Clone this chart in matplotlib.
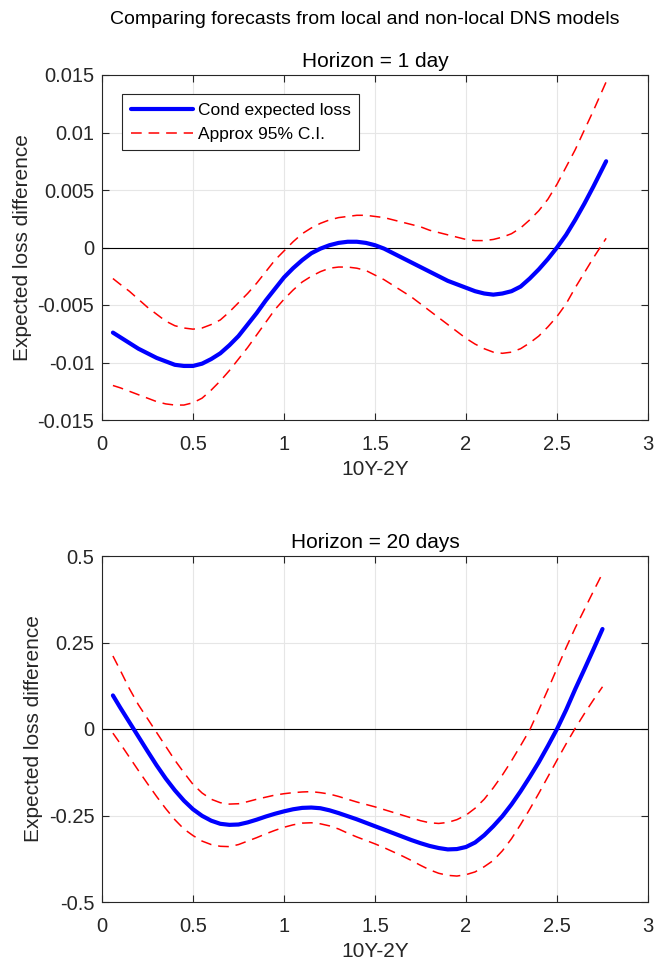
import matplotlib
matplotlib.use("Agg")
import matplotlib.pyplot as plt

plt.rcParams['font.family'] = ['Liberation Sans', 'DejaVu Sans']

suptitle = "Comparing forecasts from local and non-local DNS models"
titles = ["Horizon = 1 day", "Horizon = 20 days"]
xlabel = "10Y-2Y"
ylabel = "Expected loss difference"
legend_labels = ["Cond expected loss", "Approx 95% C.I."]

xticks = [0, 0.5, 1, 1.5, 2, 2.5, 3]
xticklabels = ["0", "0.5", "1", "1.5", "2", "2.5", "3"]
yticks_top = [-0.015, -0.01, -0.005, 0, 0.005, 0.01, 0.015]
yticklabels_top = ["-0.015", "-0.01", "-0.005", "0", "0.005", "0.01", "0.015"]
yticks_bot = [-0.5, -0.25, 0, 0.25, 0.5]
yticklabels_bot = ["-0.5", "-0.25", "0", "0.25", "0.5"]

# Horizon = 1 day
x_top = [0.06, 0.10, 0.15, 0.20, 0.25, 0.30, 0.35, 0.40, 0.45, 0.50, 0.55, 0.60, 0.65, 0.70,
         0.75, 0.80, 0.85, 0.90, 0.95, 1.00, 1.05, 1.10, 1.15, 1.20, 1.25, 1.30, 1.35, 1.40,
         1.45, 1.50, 1.55, 1.60, 1.65, 1.70, 1.75, 1.80, 1.85, 1.90, 1.95, 2.00, 2.05, 2.10,
         2.15, 2.20, 2.25, 2.30, 2.35, 2.40, 2.45, 2.50, 2.55, 2.60, 2.65, 2.70, 2.77]
mean_top = [-0.0074, -0.0078, -0.0083, -0.0088, -0.0092, -0.0096, -0.0099, -0.0102, -0.0103,
            -0.0103, -0.0101, -0.0097, -0.0092, -0.0085, -0.0077, -0.0067, -0.0057, -0.0046,
            -0.0036, -0.0026, -0.0018, -0.0011, -0.0005, -0.0001, 0.0002, 0.0004, 0.0005,
            0.0005, 0.0004, 0.0002, -0.0001, -0.0005, -0.0009, -0.0013, -0.0017, -0.0021,
            -0.0025, -0.0029, -0.0032, -0.0035, -0.0038, -0.0040, -0.0041, -0.0040, -0.0038,
            -0.0034, -0.0027, -0.0019, -0.0010, 0.0000, 0.0011, 0.0024, 0.0038, 0.0053, 0.0075]
upper_top = [-0.0027, -0.0032, -0.0038, -0.0045, -0.0052, -0.0058, -0.0064, -0.0068, -0.0070,
             -0.0071, -0.0070, -0.0067, -0.0063, -0.0056, -0.0048, -0.0040, -0.0031, -0.0021,
             -0.0011, -0.0003, 0.0005, 0.0012, 0.0017, 0.0021, 0.0024, 0.0026, 0.0027, 0.0028,
             0.0028, 0.0027, 0.0026, 0.0024, 0.0022, 0.0020, 0.0018, 0.0015, 0.0013, 0.0011,
             0.0009, 0.0007, 0.0006, 0.0006, 0.0007, 0.0009, 0.0012, 0.0017, 0.0024, 0.0032,
             0.0042, 0.0055, 0.0070, 0.0085, 0.0102, 0.0119, 0.0144]
lower_top = [-0.0120, -0.0122, -0.0125, -0.0128, -0.0131, -0.0134, -0.0136, -0.0137, -0.0137,
             -0.0135, -0.0131, -0.0124, -0.0116, -0.0107, -0.0097, -0.0087, -0.0076, -0.0065,
             -0.0054, -0.0045, -0.0037, -0.0030, -0.0025, -0.0021, -0.0018, -0.0017, -0.0017,
             -0.0018, -0.0020, -0.0024, -0.0028, -0.0033, -0.0038, -0.0043, -0.0049, -0.0055,
             -0.0061, -0.0067, -0.0073, -0.0079, -0.0084, -0.0088, -0.0091, -0.0092, -0.0091,
             -0.0088, -0.0083, -0.0077, -0.0069, -0.0060, -0.0049, -0.0035, -0.0022, -0.0009,
             0.0008]

# Horizon = 20 days
x_bot = [0.06, 0.10, 0.15, 0.20, 0.25, 0.30, 0.35, 0.40, 0.45, 0.50, 0.55, 0.60, 0.65, 0.70,
         0.75, 0.80, 0.85, 0.90, 0.95, 1.00, 1.05, 1.10, 1.15, 1.20, 1.25, 1.30, 1.35, 1.40,
         1.45, 1.50, 1.55, 1.60, 1.65, 1.70, 1.75, 1.80, 1.85, 1.90, 1.95, 2.00, 2.05, 2.10,
         2.15, 2.20, 2.25, 2.30, 2.35, 2.40, 2.45, 2.50, 2.55, 2.60, 2.65, 2.70, 2.75]
mean_bot = [0.097, 0.062, 0.020, -0.022, -0.064, -0.105, -0.143, -0.177, -0.207, -0.232,
            -0.251, -0.265, -0.274, -0.277, -0.276, -0.270, -0.262, -0.253, -0.245, -0.238,
            -0.232, -0.228, -0.227, -0.229, -0.235, -0.243, -0.252, -0.261, -0.271, -0.281,
            -0.291, -0.301, -0.311, -0.321, -0.330, -0.338, -0.344, -0.348, -0.347, -0.341,
            -0.328, -0.307, -0.281, -0.252, -0.218, -0.180, -0.139, -0.096, -0.049, 0.000,
            0.055, 0.115, 0.172, 0.230, 0.289]
upper_bot = [0.211, 0.170, 0.117, 0.070, 0.030, -0.010, -0.050, -0.090, -0.126, -0.160,
             -0.185, -0.203, -0.213, -0.217, -0.216, -0.210, -0.203, -0.197, -0.191, -0.187,
             -0.184, -0.182, -0.181, -0.184, -0.188, -0.195, -0.203, -0.211, -0.218, -0.225,
             -0.233, -0.241, -0.249, -0.257, -0.265, -0.271, -0.273, -0.270, -0.262, -0.249,
             -0.229, -0.203, -0.170, -0.133, -0.092, -0.048, -0.003, 0.055, 0.114, 0.175,
             0.235, 0.292, 0.345, 0.398, 0.450]
lower_bot = [-0.012, -0.042, -0.081, -0.120, -0.158, -0.195, -0.230, -0.262, -0.289, -0.308,
             -0.324, -0.334, -0.339, -0.340, -0.334, -0.324, -0.314, -0.303, -0.293, -0.284,
             -0.277, -0.272, -0.271, -0.274, -0.280, -0.289, -0.301, -0.312, -0.322, -0.332,
             -0.343, -0.355, -0.367, -0.380, -0.394, -0.407, -0.417, -0.423, -0.425, -0.421,
             -0.413, -0.398, -0.380, -0.352, -0.317, -0.276, -0.232, -0.186, -0.138, -0.090,
             -0.043, 0.002, 0.044, 0.084, 0.122]

W, H = 655, 964
fig = plt.figure(figsize=(W / 100, H / 100), dpi=100)

spine_c = "#262626"
ax1 = fig.add_axes([102 / W, 1 - 420 / H, 546 / W, 345 / H])
ax2 = fig.add_axes([102 / W, 1 - 902 / H, 546 / W, 346 / H])

panels = [
    (ax1, x_top, mean_top, upper_top, lower_top, yticks_top, yticklabels_top, (-0.015, 0.015)),
    (ax2, x_bot, mean_bot, upper_bot, lower_bot, yticks_bot, yticklabels_bot, (-0.5, 0.5)),
]

dash = (0, (7, 4.5))
for i, (ax, xs, m, u, l, yt, ytl, ylim) in enumerate(panels):
    ax.axhline(0, color="black", lw=0.8, zorder=1)
    hm, = ax.plot(xs, m, color="#0000ff", lw=3.0, solid_capstyle="round",
                  solid_joinstyle="round", zorder=3)
    hu, = ax.plot(xs, u, color="#ff0000", lw=1.1, ls=dash, zorder=2)
    ax.plot(xs, l, color="#ff0000", lw=1.1, ls=dash, zorder=2)
    ax.set_xlim(0, 3)
    ax.set_ylim(*ylim)
    ax.set_xticks(xticks)
    ax.set_xticklabels(xticklabels)
    ax.set_yticks(yt)
    ax.set_yticklabels(ytl)
    ax.grid(True, color="#e6e6e6", lw=0.8)
    ax.set_axisbelow(True)
    ax.tick_params(direction="in", length=5, width=0.8, top=True, right=True,
                   labelsize=14.5, colors=spine_c, labelcolor="#262626")
    ax.tick_params(axis="x", pad=11)
    ax.tick_params(axis="y", pad=5.5)
    for s in ax.spines.values():
        s.set_color(spine_c)
        s.set_linewidth(0.8)
    ax.set_title(titles[i], fontsize=15, pad=6, color="black")
    ax.set_xlabel(xlabel, fontsize=15, labelpad=4, color="#262626")
    ax.set_ylabel(ylabel, fontsize=15, labelpad=4, color="#262626")
    if i == 0:
        leg = ax.legend([hm, hu], legend_labels, loc="upper left",
                        bbox_to_anchor=(20 / 546, 1 - 19 / 345), fontsize=12.5,
                        handlelength=3.6, handletextpad=0.25, borderpad=0.5,
                        labelspacing=0.5, fancybox=False, framealpha=1,
                        edgecolor=spine_c, borderaxespad=0)
        leg.get_frame().set_linewidth(0.8)

fig.text(365 / W, 1 - 20 / H, suptitle, ha="center", va="center", fontsize=14)

fig.savefig("out.png", dpi=100)
